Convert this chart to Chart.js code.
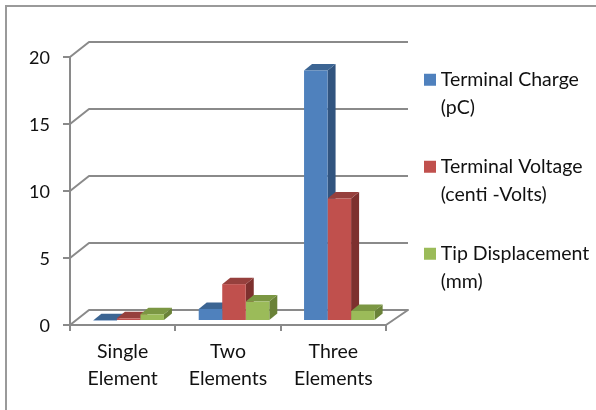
<!DOCTYPE html>
<html>
<head>
<meta charset="utf-8">
<style>html,body{margin:0;padding:0;background:#fff}#w{position:relative;width:596px;height:410px}</style>
<script src="https://cdn.jsdelivr.net/npm/chart.js@4"></script>
</head>
<body>
<div id="w"><canvas id="c" width="596" height="410"></canvas></div>
<script>
const categories = [["Single","Element"],["Two","Elements"],["Three","Elements"]];
const terminalCharge = [0.05, 0.9, 18.7];
const terminalVoltage = [0.2, 2.75, 9.15];
const tipDisplacement = [0.5, 1.45, 0.75];
const seriesLabels = [["Terminal Charge","(pC)"],["Terminal Voltage","(centi -Volts)"],["Tip Displacement","(mm)"]];
const yTicks = [0,5,10,15,20];

const GRID = '#8a8a8a';
const FONT = 'Lato';
const FS = 19.5;
const sideCol = ['#31547f','#7d302e','#6a8238'];
const topCol = ['#3c6593','#96403d','#7b9743'];
const wall = {dx:19, dy:-15};
const shift = {dx:6, dy:-4};
const depth = {dx:8, dy:-6.5};

function poly(ctx, pts, fill){
  ctx.fillStyle = fill;
  ctx.beginPath();
  pts.forEach((p,i)=> i ? ctx.lineTo(p[0],p[1]) : ctx.moveTo(p[0],p[1]));
  ctx.closePath();
  ctx.fill();
}
const threeD = {
  id:'threeD',
  beforeLayout(chart){
    const l = chart.legend;
    if(!l._fixedFit){
      const f = l.fit;
      l.fit = function(){ f.call(this); this.width = 210; };
      l._fixedFit = true;
    }
  },
  beforeDraw(chart){
    const c = chart.ctx;
    c.save();
    c.strokeStyle = '#9a9a9a'; c.lineWidth = 2;
    c.beginPath(); c.moveTo(596,6); c.lineTo(6,6); c.lineTo(6,410); c.stroke();
    c.restore();
  },
  afterLayout(chart){
    const l = chart.legend;
    l.left = 429 - l.options.labels.padding; l.right = 596;
    l.top = 70 - l.options.labels.padding; l.bottom = 410;
  },
  beforeDatasetsDraw(chart){
    const c = chart.ctx, a = chart.chartArea, y = chart.scales.y;
    c.save();
    c.strokeStyle = GRID; c.lineWidth = 2; c.lineJoin='round';
    yTicks.forEach(v=>{
      const p = y.getPixelForValue(v);
      c.beginPath();
      c.moveTo(a.left,p);
      c.lineTo(a.left+wall.dx,p+wall.dy);
      c.lineTo(a.right+wall.dx+3,p+wall.dy);
      if(v===0){ c.lineTo(a.right,p); }
      c.stroke();
    });
    c.translate(shift.dx,shift.dy);
    chart.data.datasets.forEach((ds,i)=>{
      chart.getDatasetMeta(i).data.forEach(el=>{
        const p = el.getProps(['x','y','base','width'],true);
        const l = p.x-p.width/2, r = p.x+p.width/2, t = p.y, b = p.base;
        poly(c,[[r,t],[r+depth.dx,t+depth.dy],[r+depth.dx,b+depth.dy],[r,b]],sideCol[i]);
        poly(c,[[l,t],[l+depth.dx,t+depth.dy],[r+depth.dx,t+depth.dy],[r,t]],topCol[i]);
      });
    });
    c.restore();
  },
  beforeDatasetDraw(chart){
    chart.ctx.save();
    chart.ctx.translate(shift.dx,shift.dy);
  },
  afterDatasetDraw(chart){ chart.ctx.restore(); }
};

new Chart(document.getElementById('c'),{
  type:'bar',
  data:{
    labels:categories,
    datasets:[
      {label:seriesLabels[0],data:terminalCharge,backgroundColor:'#4f81bd'},
      {label:seriesLabels[1],data:terminalVoltage,backgroundColor:'#c0504d'},
      {label:seriesLabels[2],data:tipDisplacement,backgroundColor:'#9bbb59'}
    ]
  },
  plugins:[threeD],
  options:{
    responsive:false,
    animation:false,
    layout:{padding:{top:57,right:0,left:0,bottom:0}},
    datasets:{bar:{barPercentage:1,categoryPercentage:0.67,clip:false}},
    plugins:{
      title:{display:false},
      tooltip:{enabled:false},
      legend:{
        position:'right',align:'start',
        onClick:null,
        labels:{boxWidth:2,boxHeight:2,padding:31,color:'#111',
          font:{family:FONT,size:FS,lineHeight:28/FS},
          generateLabels(chart){
            return chart.data.datasets.map((d,i)=>({
              text:d.label,fillStyle:d.backgroundColor,strokeStyle:d.backgroundColor,
              lineWidth:10,lineJoin:'miter',lineCap:'butt',hidden:false,datasetIndex:i,fontColor:'#111'
            }));
          }}
      }
    },
    scales:{
      x:{
        afterFit(s){s.height=85;},
        grid:{display:true,drawOnChartArea:false,drawTicks:true,tickLength:6,color:GRID,lineWidth:2},
        border:{display:true,color:GRID,width:2},
        ticks:{color:'#111',maxRotation:0,padding:7,font:{family:FONT,size:FS,lineHeight:27/FS}}
      },
      y:{
        min:0,max:20,
        afterFit(s){s.width=70;},
        afterBuildTicks(s){s.ticks=yTicks.map(v=>({value:v}));},
        grid:{display:true,drawOnChartArea:false,drawTicks:true,tickLength:7,color:GRID,lineWidth:2},
        border:{display:true,color:GRID,width:2},
        ticks:{color:'#111',padding:13,labelOffset:1,font:{family:FONT,size:18}}
      }
    }
  }
});
</script>
</body>
</html>
